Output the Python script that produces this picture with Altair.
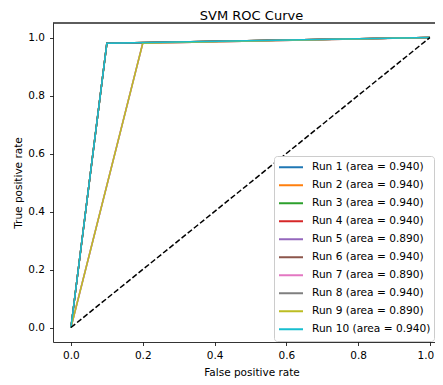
import altair as alt
import pandas as pd

# ---- data ----
title_text = ["SVM ROC Curve"]
runs = ["Run 1", "Run 2", "Run 3", "Run 4", "Run 5",
        "Run 6", "Run 7", "Run 8", "Run 9", "Run 10"]
areas = [0.940, 0.940, 0.940, 0.940, 0.890, 0.940, 0.890, 0.940, 0.890, 0.940]
fpr_runs = [
    [0.0, 0.1, 1.0], [0.0, 0.1, 1.0], [0.0, 0.1, 1.0], [0.0, 0.1, 1.0],
    [0.0, 0.2, 1.0], [0.0, 0.1, 1.0], [0.0, 0.2, 1.0], [0.0, 0.1, 1.0],
    [0.0, 0.2, 1.0], [0.0, 0.1, 1.0],
]
tpr_runs = [[0.0, 0.98, 1.0]] * 10
diag_x = [0.0, 1.0]
diag_y = [0.0, 1.0]
x_ticks = [0.0, 0.2, 0.4, 0.6, 0.8, 1.0]
y_ticks = [0.0, 0.2, 0.4, 0.6, 0.8, 1.0]
colors = ["#1f77b4", "#ff7f0e", "#2ca02c", "#d62728", "#9467bd",
          "#8c564b", "#e377c2", "#7f7f7f", "#bcbd22", "#17becf"]

labels = [f"{r} (area = {a:.3f})" for r, a in zip(runs, areas)]
rows = []
for i, (lab, fx, ty) in enumerate(zip(labels, fpr_runs, tpr_runs)):
    for s, (xv, yv) in enumerate(zip(fx, ty)):
        rows.append({"label": lab, "run": i, "step": s, "fpr": xv, "tpr": yv})
df = pd.DataFrame(rows)
diag = pd.DataFrame({"fpr": diag_x, "tpr": diag_y})
title_df = pd.DataFrame({"t": title_text})

FONT = "DejaVu Sans"
W, H = 382, 319

xscale = alt.Scale(domain=[-0.05, 1.0141], nice=False, zero=False)
yscale = alt.Scale(domain=[-0.05, 1.05], nice=False, zero=False)

x_axis = alt.Axis(values=x_ticks, format=".1f", title="False positive rate",
                  titleX=198.5, titleY=33, titleBaseline="alphabetic",
                  titleAnchor="middle",
                  labelOffset={"condition": {"test": "datum.value >= 1",
                                             "value": -4.5},
                               "value": 0})
y_axis = alt.Axis(values=y_ticks, format=".1f", title="True positive rate",
                  titleX=-32, titleY=159.5, titleBaseline="alphabetic",
                  titleAnchor="middle", titleAngle=270)

roc = alt.Chart(df).mark_line(strokeWidth=1.5).encode(
    x=alt.X("fpr:Q", scale=xscale, axis=x_axis),
    y=alt.Y("tpr:Q", scale=yscale, axis=y_axis),
    color=alt.Color("label:N", sort=labels,
                    scale=alt.Scale(domain=labels, range=colors),
                    legend=alt.Legend(title=None, orient="none",
                                      legendX=221, legendY=133)),
    detail="run:N",
    order="step:Q",
)

diag_line = alt.Chart(diag).mark_line(
    color="black", strokeWidth=1.5, strokeDash=[5.5, 2.4]
).encode(
    x=alt.X("fpr:Q", scale=xscale),
    y=alt.Y("tpr:Q", scale=yscale),
)

top_spine = alt.Chart(diag).mark_rule(color="black", strokeWidth=0.8).encode(
    x=alt.value(0), x2=alt.value(W), y=alt.value(0)
)

title_mark = alt.Chart(title_df).mark_text(
    font=FONT, fontSize=13, color="black", align="center",
    baseline="alphabetic"
).encode(
    text="t:N", x=alt.value(198.5), y=alt.value(-3)
)

chart = alt.layer(roc, diag_line, top_spine, title_mark).properties(
    width=W, height=H,
    autosize="none",
    padding={"left": 45, "top": 15, "right": 0, "bottom": 40},
).configure_view(
    stroke="transparent"
).configure_axis(
    grid=False, domainColor="black", domainWidth=0.8,
    tickColor="black", tickWidth=0.8, tickSize=3.5,
    labelFont=FONT, labelFontSize=10.5, labelColor="black",
    titleFont=FONT, titleFontSize=10.5, titleColor="black",
    titleFontWeight="normal", labelFlush=False,
).configure_axisX(
    labelPadding=4.5
).configure_axisY(
    labelPadding=5
).configure_legend(
    labelFont=FONT, labelFontSize=10.6, labelColor="black",
    symbolType="stroke", symbolSize=576, symbolStrokeWidth=2,
    clipHeight=16.5, rowPadding=1, padding=3, labelOffset=8,
    symbolOffset=1, fillColor="white", strokeColor="#cccccc",
    cornerRadius=3, strokeWidth=1, labelLimit=300,
)

chart.save("out.html", embed_options={"renderer": "svg", "actions": False})
